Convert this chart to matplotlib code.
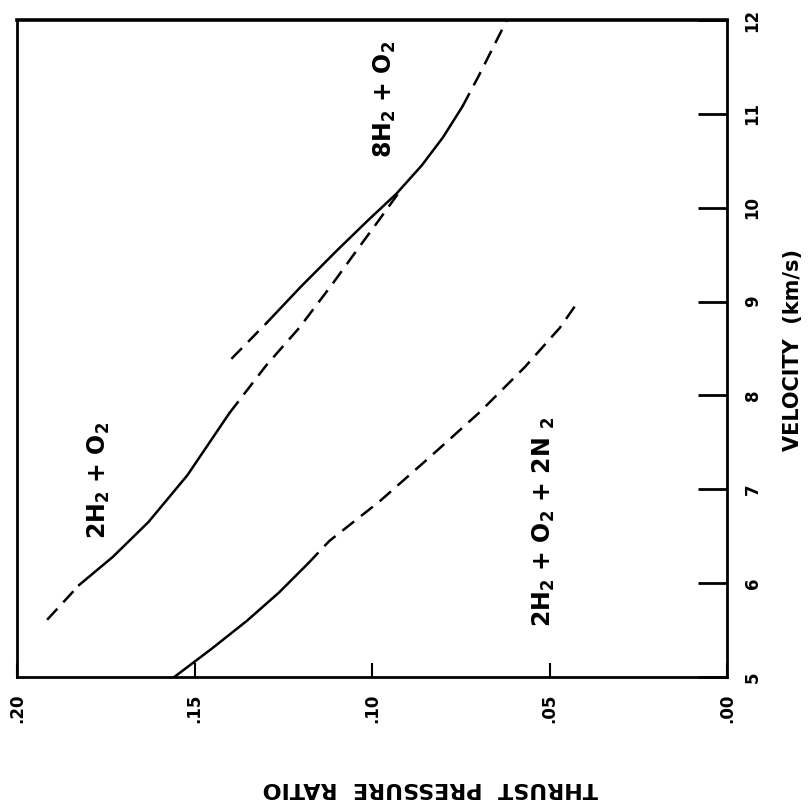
import matplotlib
matplotlib.use("Agg")
import matplotlib.pyplot as plt

plt.rcParams['font.family'] = ['DejaVu Sans']
plt.rcParams['mathtext.default'] = 'bf'

# ---- data (ratio, velocity km/s) ----
# 2H2 + O2
h2o2_dash_lo_ratio = [0.1915, 0.1825]
h2o2_dash_lo_vel = [5.61, 5.98]
h2o2_solid_ratio = [0.1825, 0.1730, 0.1630, 0.1520, 0.1402]
h2o2_solid_vel = [5.98, 6.28, 6.65, 7.15, 7.81]
h2o2_dash_hi_ratio = [0.1402, 0.1298, 0.1205, 0.1111, 0.1044, 0.0980, 0.0917]
h2o2_dash_hi_vel = [7.81, 8.32, 8.72, 9.19, 9.54, 9.87, 10.20]

# 8H2 + O2
h8o2_dash_lo_ratio = [0.1396, 0.1295]
h8o2_dash_lo_vel = [8.39, 8.78]
h8o2_solid_ratio = [0.1295, 0.1200, 0.1100, 0.1010, 0.0931, 0.0860, 0.0800, 0.0745]
h8o2_solid_vel = [8.78, 9.16, 9.54, 9.87, 10.15, 10.45, 10.75, 11.08]
h8o2_dash_hi_ratio = [0.0745, 0.0700, 0.0660, 0.0620]
h8o2_dash_hi_vel = [11.08, 11.40, 11.70, 12.00]

# 2H2 + O2 + 2N2
n2_solid_ratio = [0.1557, 0.1452, 0.1352, 0.1262, 0.1180]
n2_solid_vel = [5.00, 5.30, 5.60, 5.90, 6.21]
n2_dash_ratio = [0.1180, 0.1120, 0.0979, 0.0838, 0.0697, 0.0570, 0.0471, 0.0423]
n2_dash_vel = [6.21, 6.45, 6.87, 7.34, 7.82, 8.30, 8.72, 8.98]

ratio_ticks = [0.20, 0.15, 0.10, 0.05, 0.00]
ratio_labels = ['.20', '.15', '.10', '.05', '.00']
vel_ticks = [5, 6, 7, 8, 9, 10, 11, 12]
vel_labels = ['5', '6', '7', '8', '9', '10', '11', '12']

W, H = 811, 807
fig = plt.figure(figsize=(W / 100, H / 100), dpi=100)
ax = fig.add_axes([17 / W, 1 - 677 / H, (727 - 17) / W, (677 - 20) / H])

lw = 1.8
dash = (0, (6, 3.5))
k = 'black'

ax.plot(h2o2_dash_lo_ratio, h2o2_dash_lo_vel, color=k, lw=lw, linestyle=dash)
ax.plot(h2o2_solid_ratio, h2o2_solid_vel, color=k, lw=lw)
ax.plot(h2o2_dash_hi_ratio, h2o2_dash_hi_vel, color=k, lw=lw, linestyle=dash)

ax.plot(h8o2_dash_lo_ratio, h8o2_dash_lo_vel, color=k, lw=lw, linestyle=dash)
ax.plot(h8o2_solid_ratio, h8o2_solid_vel, color=k, lw=lw)
ax.plot(h8o2_dash_hi_ratio, h8o2_dash_hi_vel, color=k, lw=lw, linestyle=dash)

ax.plot(n2_solid_ratio, n2_solid_vel, color=k, lw=lw)
ax.plot(n2_dash_ratio, n2_dash_vel, color=k, lw=lw, linestyle=dash)

ax.set_xlim(0.20, 0.00)
ax.set_ylim(5, 12)

for s in ax.spines.values():
    s.set_linewidth(2.0)
ax.spines['top'].set_linewidth(2.6)

ax.set_xticks(ratio_ticks)
ax.set_xticklabels(ratio_labels, rotation=90, fontsize=12, fontweight='bold')
ax.yaxis.tick_right()
ax.set_yticks(vel_ticks)
ax.set_yticklabels(vel_labels, rotation=90, fontsize=12, fontweight='bold', va='center')
ax.tick_params(axis='x', direction='in', length=10, width=1.5, pad=12)
ax.tick_params(axis='y', direction='in', length=21, width=2.0, pad=12)

# axis titles (rotated figure)
fig.text(793 / W, 1 - 350 / H, 'VELOCITY  (km/s)', rotation=90, fontsize=15,
         fontweight='bold', ha='center', va='center')
fig.text(430 / W, 1 - 788 / H, 'THRUST  PRESSURE  RATIO', rotation=180, fontsize=16,
         fontweight='bold', ha='center', va='center')

# curve labels
ax.text(0.1770, 7.1, r'2H$_2$ + O$_2$', rotation=90, fontsize=17, fontweight='bold',
        ha='center', va='center')
ax.text(0.0965, 11.15, r'8H$_2$ + O$_2$', rotation=90, fontsize=17, fontweight='bold',
        ha='center', va='center')
ax.text(0.0515, 6.65, r'2H$_2$ + O$_2$ + 2N $_2$', rotation=90, fontsize=17,
        fontweight='bold', ha='center', va='center')

fig.savefig('out.png', dpi=100)
